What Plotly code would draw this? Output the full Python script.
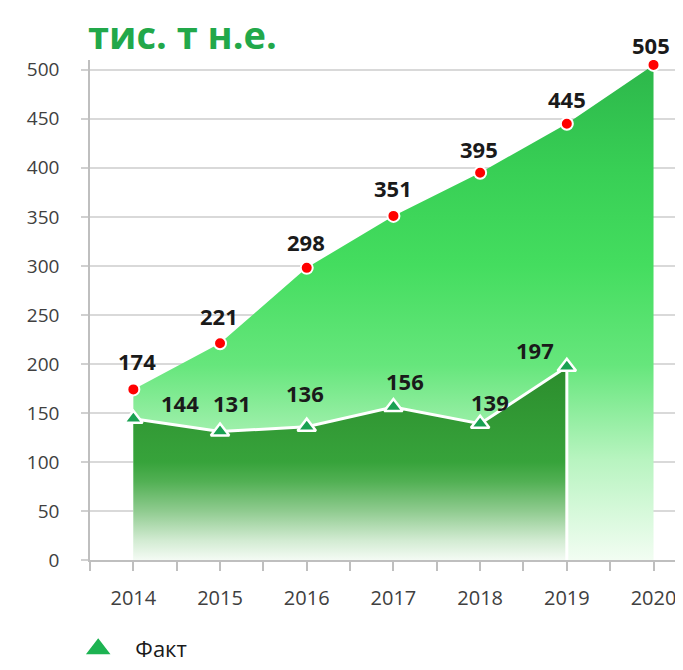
import plotly.graph_objects as go

years = [2014, 2015, 2016, 2017, 2018, 2019, 2020]
plan = [174, 221, 298, 351, 395, 445, 505]
fact_years = [2014, 2015, 2016, 2017, 2018, 2019]
fact = [144, 131, 136, 156, 139, 197]
y_ticks = [0, 50, 100, 150, 200, 250, 300, 350, 400, 450, 500]
title_text = "тис. т н.е."
legend_name = "Факт"

# label offsets in pixels (style only)
plan_off = [(4, -28), (-1, -27), (-1, -26), (0, -28), (-1, -24), (0, -25), (-3, -20)]
fact_off = [(47, -16), (12, -29), (-2, -34), (12, -26), (10, -22), (-32, -17)]

FONT = "Open Sans"

fig = go.Figure()

# plan area
fig.add_trace(go.Scatter(
    x=years, y=plan, mode="none", fill="tozeroy",
    fillgradient=dict(type="vertical", start=0, stop=510,
                      colorscale=[[0, "#f2fdf2"], [0.2, "#b8f4c0"], [0.39, "#66e67c"],
                                  [0.59, "#44dd5f"], [0.78, "#38cf55"], [1, "#2cb64a"]]),
    showlegend=False, hoverinfo="skip"))

# fact area with white outline (down to baseline at the last year)
fig.add_trace(go.Scatter(
    x=fact_years + [fact_years[-1]], y=fact + [0], mode="lines", fill="tozeroy",
    line=dict(color="white", width=3),
    fillgradient=dict(type="vertical", start=0, stop=200,
                      colorscale=[[0, "#f4fbf4"], [0.1, "#d2ebd2"], [0.25, "#8fcb8f"],
                                  [0.4, "#52b054"], [0.5, "#37a33b"], [1, "#2b8c2c"]]),
    showlegend=False, hoverinfo="skip"))

# fact markers
fig.add_trace(go.Scatter(
    x=fact_years, y=fact, mode="markers", name=legend_name, legendgroup="fact",
    marker=dict(symbol="triangle-up", size=16, color="#1aa152",
                line=dict(color="white", width=2.5)),
    showlegend=False))

# legend entry for the fact series (legend symbol without white outline)
fig.add_trace(go.Scatter(
    x=[None], y=[None], mode="markers", name="\u00a0\u00a0\u00a0" + legend_name, legendgroup="fact",
    marker=dict(symbol="triangle-up", size=16, color="#1db352",
                line=dict(color="#1db352", width=3)),
    showlegend=True, hoverinfo="skip"))

# plan markers
fig.add_trace(go.Scatter(
    x=years, y=plan, mode="markers",
    marker=dict(symbol="circle", size=12, color="#ff0000",
                line=dict(color="white", width=2)),
    showlegend=False))

annotations = []
for x, v, (dx, dy) in zip(years, plan, plan_off):
    annotations.append(dict(x=x, y=v, text=str(v), showarrow=False, xshift=dx, yshift=-dy,
                            font=dict(family=FONT, size=22, color="#1a1a1a", weight="bold")))
for x, v, (dx, dy) in zip(fact_years, fact, fact_off):
    annotations.append(dict(x=x, y=v, text=str(v), showarrow=False, xshift=dx, yshift=-dy,
                            font=dict(family=FONT, size=22, color="#1a1a1a", weight="bold")))
annotations.append(dict(xref="paper", yref="paper", x=0, y=1, xanchor="left", yanchor="bottom",
                        xshift=-4, yshift=-2, text=title_text, showarrow=False,
                        font=dict(family=FONT, size=38, color="#22a84a", weight="bold")))

fig.update_layout(
    width=675, height=662,
    margin=dict(l=82, r=0, t=52, b=110),
    paper_bgcolor="white", plot_bgcolor="white",
    annotations=annotations,
    legend=dict(orientation="h", xref="container", yref="container",
                x=0.104, xanchor="left", y=-0.045, yanchor="bottom",
                font=dict(family=FONT, size=22, color="#1a1a1a")),
    xaxis=dict(range=[2013.5, 2020.34], tickmode="array", tickvals=years,
               ticktext=[str(y) for y in years], automargin=False,
               showgrid=False, zeroline=False, showline=True, linecolor="#bfbfbf", linewidth=1.5,
               ticks="outside", ticklen=9, tickcolor="#bfbfbf", tickwidth=1.5,
               minor=dict(ticks="outside", ticklen=9, tickcolor="#bfbfbf", tickwidth=1.5,
                          dtick=0.5, tick0=2013.5),
               ticklabelstandoff=10,
               tickfont=dict(family=FONT, size=20, color="#404040")),
    yaxis=dict(range=[0, 510], tickmode="array", tickvals=y_ticks, automargin=False,
               showgrid=True, gridcolor="#d9d9d9", gridwidth=1.5, zeroline=False,
               showline=True, linecolor="#bfbfbf", linewidth=1.5,
               ticks="outside", ticklen=7, tickcolor="#d0d0d0", tickwidth=1.5,
               ticklabelstandoff=18,
               tickfont=dict(family=FONT, size=19, color="#404040")),
)

fig.write_html("out.html")
